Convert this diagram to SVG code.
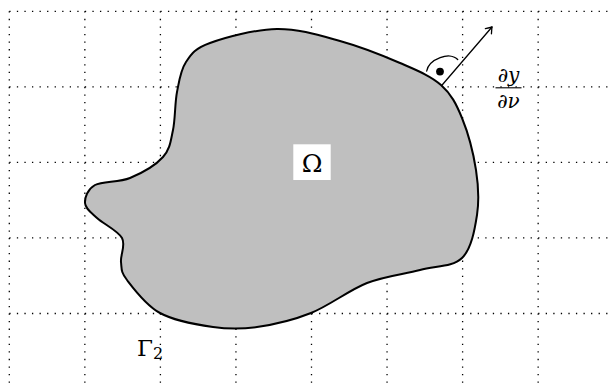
<svg xmlns="http://www.w3.org/2000/svg" width="610" height="387" viewBox="0 0 610 387">
<style>
.grid line{stroke:#000;stroke-width:1.3;stroke-dasharray:1.3 6.255;fill:none}
.outline{fill:#bfbfbf;stroke:#000;stroke-width:2;stroke-linejoin:round}
.thin{fill:none;stroke:#000;stroke-width:1.3;stroke-linecap:round}
.math{font-family:"DejaVu Serif","Liberation Serif",serif;fill:#000}
</style>
<defs>
<marker id="tip" markerUnits="userSpaceOnUse" markerWidth="14" markerHeight="14" viewBox="-8 -7 10 14" refX="0" refY="0" orient="auto">
<path d="M -5.5 -4 Q -1.8 -1.2 0 0 Q -1.8 1.2 -5.5 4" fill="none" stroke="#000" stroke-width="1.3" stroke-linecap="round" stroke-linejoin="round"/>
</marker>
</defs>
<g id="grid" class="grid">
<line x1="9.3" y1="11.3" x2="610" y2="11.3"/>
<line x1="9.3" y1="86.85" x2="610" y2="86.85"/>
<line x1="9.3" y1="162.4" x2="610" y2="162.4"/>
<line x1="9.3" y1="237.95" x2="610" y2="237.95"/>
<line x1="9.3" y1="313.5" x2="610" y2="313.5"/>
<line x1="9.3" y1="11.3" x2="9.3" y2="387"/>
<line x1="84.85" y1="11.3" x2="84.85" y2="387"/>
<line x1="160.4" y1="11.3" x2="160.4" y2="387"/>
<line x1="235.95" y1="11.3" x2="235.95" y2="387"/>
<line x1="311.5" y1="11.3" x2="311.5" y2="387"/>
<line x1="387.05" y1="11.3" x2="387.05" y2="387"/>
<line x1="462.6" y1="11.3" x2="462.6" y2="387"/>
<line x1="538.15" y1="11.3" x2="538.15" y2="387"/>
</g>
<g id="omega-region">
<path class="outline" d="M441,85 C451.3,94.2 456.2,103.8 462,118 C467.8,132.2 473.5,153.8 476,170 C478.5,186.2 479.3,200.3 477,215 C474.7,229.7 471.5,248.8 462,258 C452.5,267.2 435.8,265.8 420,270 C404.2,274.2 385.2,275.8 367,283 C348.8,290.2 329.3,305.7 311,313 C292.7,320.3 273.3,324.7 257,327 C240.7,329.3 229.2,329.3 213,327 C196.8,324.7 174.3,320.8 160,313 C145.7,305.2 133.5,288.5 127,280 C120.5,271.5 121.8,269 121,262 C120.2,255 126,245.3 122,238 C118,230.7 103.2,223.8 97,218 C90.8,212.2 85.3,208.5 85,203 C84.7,197.5 87.5,189.2 95,185 C102.5,180.8 118.7,182.7 130,178 C141.3,173.3 155.8,165 163,157 C170.2,149 170.7,140.8 173,130 C175.3,119.2 174.8,103.3 177,92 C179.2,80.7 180.5,70.2 186,62 C191.5,53.8 194.8,48.5 210,43 C225.2,37.5 255.3,29.3 277,29 C298.7,28.7 319.5,35.3 340,41 C360.5,46.7 383.2,55.7 400,63 C416.8,70.3 430.7,75.8 441,85 Z"/>
</g>
<g id="omega-label">
<rect x="293.3" y="144.3" width="37.4" height="35.7" fill="#fff"/>
<text class="math" x="312" y="171.7" font-size="25" text-anchor="middle">Ω</text>
</g>
<g id="connectors">
<line class="thin" x1="441.7" y1="85.5" x2="492" y2="27" marker-end="url(#tip)"/>
</g>
<g id="right-angle">
<path class="thin" d="M426.7,71 C429,59 450,51 457.7,59.5"/>
<circle cx="440" cy="71.6" r="3.9" fill="#000"/>
</g>
<g id="normal-derivative-label">
<text class="math" x="508.5" y="81.5" font-size="20" text-anchor="middle">∂<tspan font-style="italic">y</tspan></text>
<line x1="495.5" y1="87.8" x2="521.5" y2="87.8" stroke="#000" stroke-width="1.1"/>
<text class="math" x="508.5" y="107.5" font-size="20" text-anchor="middle">∂<tspan font-style="italic">ν</tspan></text>
</g>
<g id="gamma2-label">
<text class="math" x="137" y="355.5" font-size="23">Γ<tspan font-size="16" dy="3">2</tspan></text>
</g>
</svg>
